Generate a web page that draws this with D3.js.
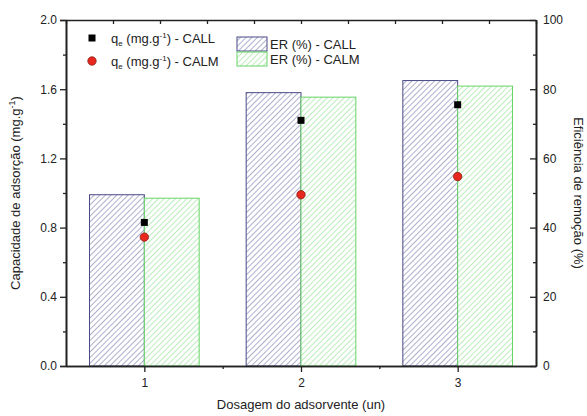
<!DOCTYPE html>
<html lang="pt">
<head>
<meta charset="UTF-8">
<title>Capacidade de adsorção</title>
<script src="https://d3js.org/d3.v7.min.js"></script>
<style>
    body { margin: 0; background: #fff; }
    svg { font-family: "Liberation Sans", Arial, sans-serif; }
</style>
</head>
<body>
<svg width="587" height="416"></svg>
<script>
    // values
    const doses = [1, 2, 3];
    const erCall = [49.5, 79.0, 82.5];
    const erCalm = [48.5, 77.7, 80.9];
    const qCall = [0.83, 1.42, 1.51];
    const qCalm = [0.745, 0.99, 1.095];
    const leftTicks = [0, 0.4, 0.8, 1.2, 1.6, 2.0];
    const rightTicks = [0, 20, 40, 60, 80, 100];

    const svg = d3.select("svg");
    const m = {left: 66, right: 536, top: 20, bottom: 366};
    const barW = 0.35;

    const x = d3.scaleLinear().domain([0.5, 3.5]).range([m.left, m.right]);
    const yL = d3.scaleLinear().domain([0, 2]).range([m.bottom, m.top]);
    const yR = d3.scaleLinear().domain([0, 100]).range([m.bottom, m.top]);

    // hatch patterns
    const defs = svg.append("defs");
    function hatch(id, color) {
        const p = defs.append("pattern")
            .attr("id", id)
            .attr("patternUnits", "userSpaceOnUse")
            .attr("width", 4).attr("height", 4)
            .attr("patternTransform", "rotate(45)");
        p.append("rect").attr("width", 4).attr("height", 4).attr("fill", "#fff");
        p.append("line").attr("x1", 0).attr("y1", 0).attr("x2", 0).attr("y2", 4)
            .attr("stroke", color).attr("stroke-width", 1.3);
    }
    hatch("hCall", "#8484b4");
    hatch("hCalm", "#98e298");

    // bars
    const series = [
        {vals: erCall, off: -barW, fill: "url(#hCall)", stroke: "#4a4a86"},
        {vals: erCalm, off: 0, fill: "url(#hCalm)", stroke: "#66d466"}
    ];
    series.forEach(s => {
        svg.append("g").selectAll("rect")
            .data(doses)
            .join("rect")
            .attr("x", d => x(d + s.off))
            .attr("y", (d, i) => yR(s.vals[i]))
            .attr("width", x(barW) - x(0))
            .attr("height", (d, i) => yR(0) - yR(s.vals[i]))
            .attr("fill", s.fill)
            .attr("stroke", s.stroke)
            .attr("stroke-width", 1);
    });

    // markers
    svg.append("g").selectAll("rect")
        .data(doses)
        .join("rect")
        .attr("x", d => x(d) - 3.5)
        .attr("y", (d, i) => yL(qCall[i]) - 3.5)
        .attr("width", 7).attr("height", 7)
        .attr("fill", "#000");
    svg.append("g").selectAll("circle")
        .data(doses)
        .join("circle")
        .attr("cx", d => x(d))
        .attr("cy", (d, i) => yL(qCalm[i]))
        .attr("r", 4.2)
        .attr("fill", "#e8281e")
        .attr("stroke", "#8a1a10")
        .attr("stroke-width", 0.8);

    // axes
    const fmt = d3.format(".1f");
    svg.append("g").attr("transform", `translate(${m.left},0)`)
        .call(d3.axisLeft(yL).tickValues(leftTicks).tickFormat(fmt).tickSize(6).tickPadding(3));
    svg.append("g").attr("transform", `translate(${m.left},0)`)
        .call(d3.axisLeft(yL).tickValues(d3.range(0.2, 2, 0.4)).tickFormat("").tickSize(3).tickSizeOuter(0));
    svg.append("g").attr("transform", `translate(${m.right},0)`)
        .call(d3.axisRight(yR).tickValues(rightTicks).tickSize(-6).tickSizeOuter(0).tickPadding(7));
    svg.append("g").attr("transform", `translate(${m.right},0)`)
        .call(d3.axisRight(yR).tickValues(d3.range(10, 100, 20)).tickFormat("").tickSize(-3).tickSizeOuter(0));
    svg.append("g").attr("transform", `translate(0,${m.bottom})`)
        .call(d3.axisBottom(x).tickValues(doses).tickFormat(d3.format("d")).tickSize(6).tickSizeOuter(0).tickPadding(6));
    svg.append("g").attr("transform", `translate(0,${m.bottom})`)
        .call(d3.axisBottom(x).tickValues([1.5, 2.5]).tickFormat("").tickSize(3).tickSizeOuter(0));
    const xTop = d3.scaleLinear().domain([0, 10]).range([m.left, m.right]);
    svg.append("g").attr("transform", `translate(0,${m.top})`)
        .call(d3.axisTop(xTop).ticks(10).tickFormat("").tickSize(-4).tickSizeOuter(0));

    svg.selectAll(".domain").attr("stroke", "#222").attr("stroke-width", 1.6);
    svg.selectAll(".tick line").attr("stroke", "#222").attr("stroke-width", 1.3);
    svg.selectAll(".tick text").attr("font-size", 12).attr("fill", "#222")
        .attr("font-family", "Liberation Sans, Arial, sans-serif");

    // axis titles
    svg.append("text")
        .attr("transform", `translate(20,${(m.top + m.bottom) / 2}) rotate(-90)`)
        .attr("text-anchor", "middle")
        .attr("font-size", 13).attr("fill", "#222")
        .call(t => {
            t.append("tspan").text("Capacidade de adsorção (mg.g");
            t.append("tspan").attr("font-size", 9).attr("dy", -5).text("-1");
            t.append("tspan").attr("dy", 5).text(")");
        });
    svg.append("text")
        .attr("transform", `translate(574,${(m.top + m.bottom) / 2}) rotate(90)`)
        .attr("text-anchor", "middle")
        .attr("font-size", 13).attr("fill", "#222")
        .text("Eficiência de remoção (%)");
    svg.append("text")
        .attr("x", (m.left + m.right) / 2).attr("y", 409)
        .attr("text-anchor", "middle")
        .attr("font-size", 13).attr("fill", "#222")
        .text("Dosagem do adsorvente (un)");

    // legend
    const leg = svg.append("g").attr("font-size", 13).attr("fill", "#222");
    const qLabels = [
        {name: "CALL", y: 43},
        {name: "CALM", y: 66}
    ];
    leg.append("rect").attr("x", 88.5).attr("y", 34.5).attr("width", 7).attr("height", 7).attr("fill", "#000");
    leg.append("circle").attr("cx", 92).attr("cy", 61).attr("r", 4.2)
        .attr("fill", "#e8281e").attr("stroke", "#8a1a10").attr("stroke-width", 0.8);
    qLabels.forEach(l => {
        const t = leg.append("text").attr("x", 111).attr("y", l.y);
        t.append("tspan").text("q");
        t.append("tspan").attr("font-size", 8).attr("dy", 3).text("e");
        t.append("tspan").attr("dy", -3).text(" (mg.g");
        t.append("tspan").attr("font-size", 8).attr("dy", -5).text("-1");
        t.append("tspan").attr("dy", 5).text(") - " + l.name);
    });
    const erLabels = [
        {name: "ER (%) - CALL", y: 37, fill: "url(#hCall)", stroke: "#4a4a86"},
        {name: "ER (%) - CALM", y: 52, fill: "url(#hCalm)", stroke: "#66d466"}
    ];
    erLabels.forEach(l => {
        leg.append("rect").attr("x", 237).attr("y", l.y).attr("width", 30).attr("height", 14)
            .attr("fill", l.fill).attr("stroke", l.stroke);
        leg.append("text").attr("x", 270).attr("y", l.y + 12).text(l.name);
    });
</script>
</body>
</html>
